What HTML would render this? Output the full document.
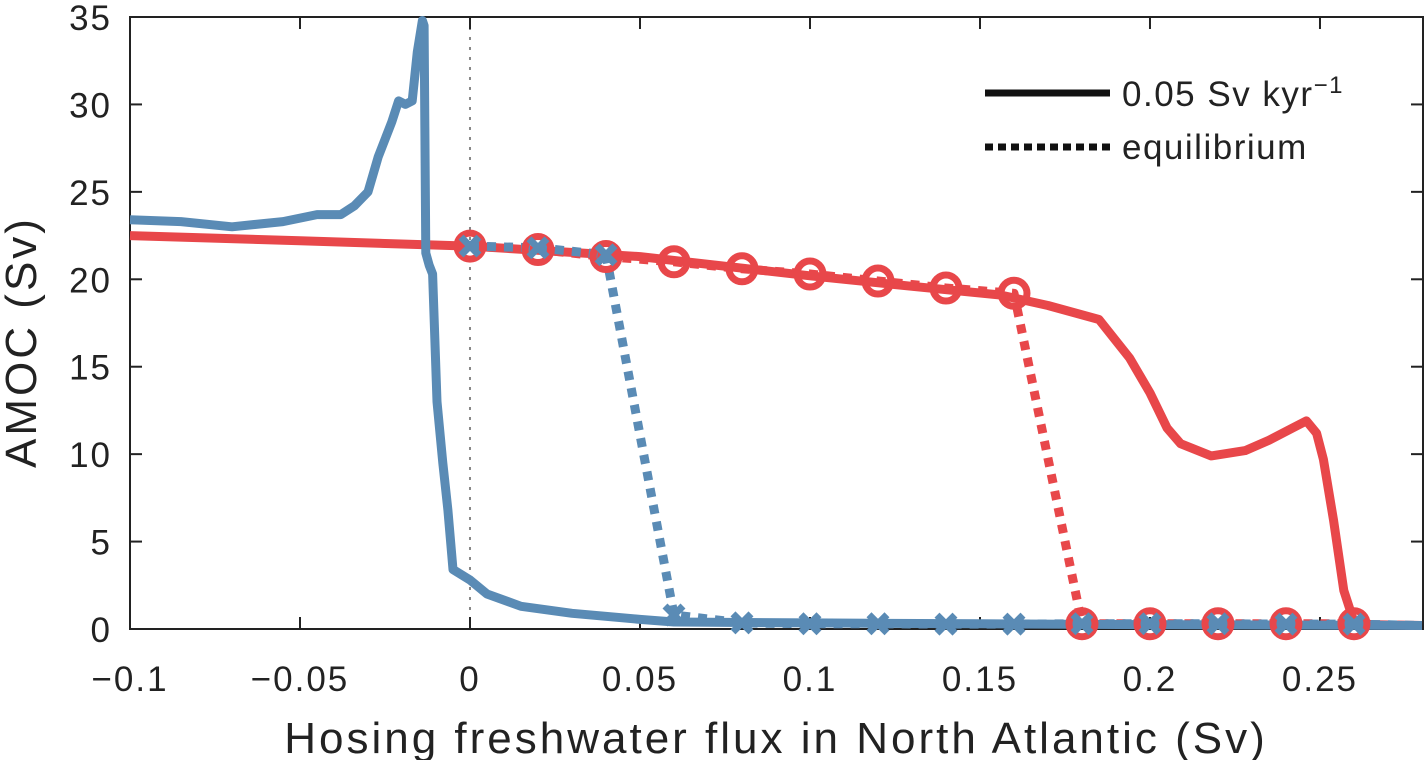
<!DOCTYPE html>
<html><head><meta charset="utf-8"><style>
body{margin:0;background:#fff}
svg text{font-family:"Liberation Sans",sans-serif;fill:#222}
</style></head><body>
<svg id="chart" width="1426" height="760" xmlns="http://www.w3.org/2000/svg">
<g id="axes"></g><g id="series"></g><g id="legend"></g>
</svg>
<script>
const xTicks=[-0.1,-0.05,0,0.05,0.1,0.15,0.2,0.25];
const xTickLabels=["\u22120.1","\u22120.05","0","0.05","0.1","0.15","0.2","0.25"];
const yTicks=[0,5,10,15,20,25,30,35];
const blueSolidX=[0.28,0.2,0.15,0.1,0.06,0.05,0.03,0.015,0.005,0,-0.005,-0.0065,-0.008,-0.0097,-0.011,-0.012,-0.013,-0.0135,-0.014,-0.0155,-0.017,-0.019,-0.021,-0.023,-0.027,-0.03,-0.034,-0.038,-0.045,-0.055,-0.07,-0.085,-0.1];
const blueSolidY=[0.2,0.25,0.3,0.35,0.4,0.55,0.9,1.3,2.0,2.8,3.4,6.8,9.5,13,20.3,20.8,21.5,34.5,34.8,33,30.2,30.0,30.2,29,27,25,24.2,23.7,23.7,23.3,23.0,23.3,23.4];
const redSolidX=[-0.1,-0.05,0,0.05,0.1,0.13,0.156,0.17,0.185,0.194,0.2,0.205,0.209,0.218,0.228,0.235,0.242,0.246,0.249,0.251,0.254,0.257,0.26,0.265,0.28];
const redSolidY=[22.5,22.2,21.9,21.3,20.2,19.6,19.1,18.5,17.7,15.5,13.5,11.5,10.6,9.9,10.2,10.8,11.5,11.9,11.2,9.7,6.2,2.2,0.4,0.25,0.2];
const eqX=[0,0.02,0.04,0.06,0.08,0.1,0.12,0.14,0.16,0.18,0.2,0.22,0.24,0.26];
const redEqY=[21.9,21.7,21.3,21.0,20.6,20.3,19.9,19.5,19.2,0.3,0.3,0.3,0.3,0.3];
const blueEqY=[21.9,21.8,21.4,0.8,0.35,0.3,0.3,0.28,0.28,0.3,0.3,0.3,0.28,0.28];
const blueEqTailX=[0.26,0.28];
const blueEqTailY=[0.28,0.2];

const L=130,R=1423,T=17,B=629,xmin=-0.1,xmax=0.2803,ymin=0,ymax=35;
const sx=v=>L+(v-xmin)/(xmax-xmin)*(R-L);
const sy=v=>B-(v-ymin)/(ymax-ymin)*(B-T);
const NS="http://www.w3.org/2000/svg";
function mk(tag,attrs,parent){const e=document.createElementNS(NS,tag);for(const k in attrs)e.setAttribute(k,attrs[k]);parent.appendChild(e);return e;}
const axes=document.getElementById('axes'),series=document.getElementById('series'),legend=document.getElementById('legend');

let z=mk('line',{x1:sx(0),x2:sx(0),y1:T,y2:B,stroke:'#888','stroke-width':2,'stroke-dasharray':'3 7'},axes);


let fr=mk('rect',{x:L,y:T,width:R-L,height:B-T,fill:'none',stroke:'#222','stroke-width':2},axes);


xTicks.forEach((t,i)=>{
  mk('line',{x1:sx(t),x2:sx(t),y1:B,y2:B-12,stroke:'#222','stroke-width':2},axes);
  mk('line',{x1:sx(t),x2:sx(t),y1:T,y2:T+12,stroke:'#222','stroke-width':2},axes);
  const tx=mk('text',{x:sx(t),y:691,'font-size':35,'letter-spacing':2,'text-anchor':'middle'},axes);
  tx.textContent=xTickLabels[i];
  
  
});
yTicks.forEach(t=>{
  mk('line',{x1:L,x2:L+12,y1:sy(t),y2:sy(t),stroke:'#222','stroke-width':2},axes);
  mk('line',{x1:R,x2:R-12,y1:sy(t),y2:sy(t),stroke:'#222','stroke-width':2},axes);
  const tx=mk('text',{x:112,y:sy(t)+13,'font-size':35,'letter-spacing':2,'text-anchor':'end'},axes);
  tx.textContent=t;
  
  
});
let xl=mk('text',{x:776,y:753,'font-size':44,'letter-spacing':3,'text-anchor':'middle'},axes);
xl.textContent='Hosing freshwater flux in North Atlantic (Sv)';


let yl=mk('text',{x:0,y:0,'font-size':44,'letter-spacing':3,'text-anchor':'middle',transform:'translate(36,342) rotate(-90)'},axes);
yl.textContent='AMOC (Sv)';



const RED='#e8474a',BLUE='#5a8bb5';
function poly(xs,ys,col,dash,name){
  const d=xs.map((x,i)=>(i?'L':'M')+sx(x).toFixed(1)+' '+sy(ys[i]).toFixed(1)).join(' ');
  const p=mk('path',{d:d,fill:'none',stroke:col,'stroke-width':9,'stroke-linejoin':'round'},series);
  if(dash)p.setAttribute('stroke-dasharray',dash);
  
  
}
poly(redSolidX,redSolidY,RED,null,'red-ramp-line');
poly(eqX,redEqY,RED,'9 8','red-equilibrium-line');
poly(blueSolidX,blueSolidY,BLUE,null,'blue-ramp-line');
poly(eqX,blueEqY,BLUE,'9 8','blue-equilibrium-line');
poly(blueEqTailX,blueEqTailY,BLUE,'9 8','blue-equilibrium-tail');
eqX.forEach((x,i)=>{
  const c=mk('circle',{cx:sx(x),cy:sy(redEqY[i]),r:13,fill:'none',stroke:RED,'stroke-width':7},series);
  
  
});
eqX.forEach((x,i)=>{
  const cx=sx(x),cy=sy(blueEqY[i]);
  const g=mk('path',{d:`M${cx-9} ${cy-9}L${cx+9} ${cy+9}M${cx+9} ${cy-9}L${cx-9} ${cy+9}`,stroke:BLUE,'stroke-width':7,fill:'none'},series);
  
  
});

let l1=mk('line',{x1:985,x2:1110,y1:93,y2:93,stroke:'#111','stroke-width':7},legend);


let t1=mk('text',{x:1122,y:106,'font-size':35,'letter-spacing':1.5},legend);
t1.innerHTML='0.05 Sv kyr<tspan dy="-13" font-size="24">\u22121</tspan>';


let l2=mk('line',{x1:985,x2:1110,y1:147,y2:147,stroke:'#111','stroke-width':7,'stroke-dasharray':'8 5'},legend);


let t2=mk('text',{x:1122,y:159,'font-size':35,'letter-spacing':1.5},legend);
t2.textContent='equilibrium';


</script>
</body></html>
